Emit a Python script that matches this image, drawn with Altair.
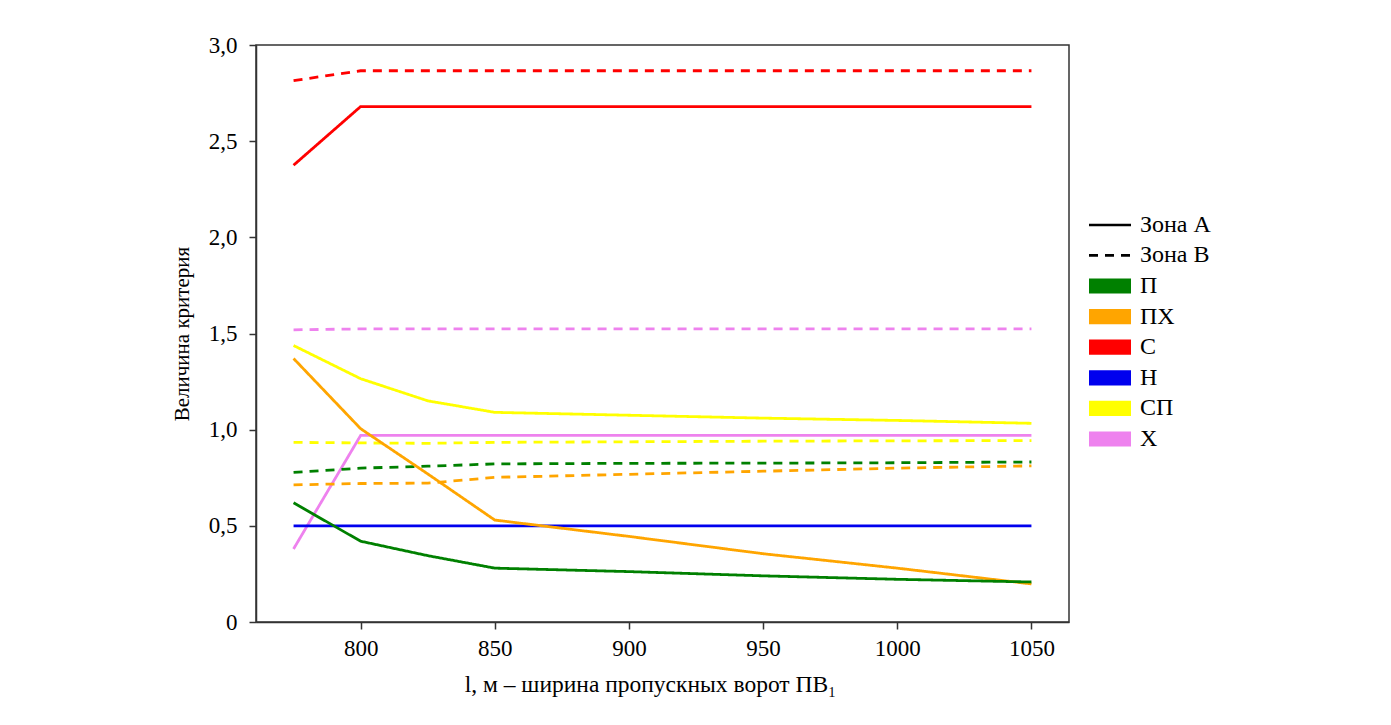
import altair as alt
import pandas as pd

# --- data ---
x_vals = [775, 800, 825, 850, 900, 950, 1000, 1050]
criteria = ["П", "ПХ", "С", "Н", "СП", "Х"]
colors = ["#008000", "#FFA500", "#FF0000", "#0000EE", "#FFFF00", "#EE82EE"]
zones = ["Зона А", "Зона В"]

# Zone A (solid)
a_P = [0.62, 0.42, 0.345, 0.28, 0.262, 0.24, 0.222, 0.208]
a_PX = [1.37, 1.005, 0.77, 0.53, 0.445, 0.355, 0.28, 0.198]
a_S = [2.375, 2.68, 2.68, 2.68, 2.68, 2.68, 2.68, 2.68]
a_N = [0.5, 0.5, 0.5, 0.5, 0.5, 0.5, 0.5, 0.5]
a_SP = [1.4375, 1.265, 1.15, 1.09, 1.075, 1.06, 1.048, 1.033]
a_X = [0.38, 0.97, 0.97, 0.97, 0.97, 0.97, 0.97, 0.97]

# Zone B (dashed)
b_P = [0.778, 0.80, 0.81, 0.822, 0.825, 0.826, 0.828, 0.832]
b_PX = [0.713, 0.72, 0.722, 0.752, 0.768, 0.784, 0.80, 0.812]
b_S = [2.815, 2.866, 2.866, 2.866, 2.866, 2.866, 2.866, 2.866]
b_SP = [0.934, 0.931, 0.929, 0.934, 0.937, 0.94, 0.942, 0.943]
b_X = [1.519, 1.524, 1.524, 1.524, 1.524, 1.524, 1.524, 1.524]

y_ticks = [0, 0.5, 1.0, 1.5, 2.0, 2.5, 3.0]
x_ticks = [800, 850, 900, 950, 1000, 1050]

series = [
    ("Зона А", "С", a_S), ("Зона В", "С", b_S),
    ("Зона В", "Х", b_X),
    ("Зона А", "СП", a_SP), ("Зона В", "СП", b_SP),
    ("Зона А", "Х", a_X),
    ("Зона В", "П", b_P), ("Зона В", "ПХ", b_PX),
    ("Зона А", "Н", a_N),
    ("Зона А", "ПХ", a_PX),
    ("Зона А", "П", a_P),
]

rows = []
for order, (zone, crit, vals) in enumerate(series):
    for x, v in zip(x_vals, vals):
        rows.append({"l": x, "value": v, "criterion": crit, "zone": zone, "order": order})
df = pd.DataFrame(rows)

FONT = "Times New Roman"

axis_style = dict(
    labelFont=FONT,
    titleFont=FONT,
    labelFontSize=23,
    titleFontWeight="normal",
    labelColor="black",
    titleColor="black",
    domainColor="#333333",
    domainWidth=1.5,
    tickColor="#333333",
    tickWidth=1.5,
    grid=False,
    tickSize=7,
)

# a block of stacked strokes that reads as a filled swatch
swatch = "M-7,-2H7M-7,-1H7M-7,0H7M-7,1H7M-7,2H7"

chart = (
    alt.Chart(df)
    .mark_line(strokeWidth=2.8, clip=True)
    .encode(
        x=alt.X(
            "l:Q",
            scale=alt.Scale(domain=[761, 1064], nice=False, zero=False),
            axis=alt.Axis(
                values=x_ticks,
                format="d",
                title="l, м – ширина пропускных ворот ПВ₁",
                titleFontSize=23.5,
                titleX=394,
                labelPadding=8,
                titlePadding=12,
                **axis_style,
            ),
        ),
        y=alt.Y(
            "value:Q",
            scale=alt.Scale(domain=[0, 3], nice=False),
            axis=alt.Axis(
                values=y_ticks,
                title="Величина критерия",
                titleFontSize=21,
                labelPadding=12,
                titlePadding=16,
                labelExpr="datum.value == 0 ? '0' : replace(format(datum.value, '.1f'), '.', ',')",
                **axis_style,
            ),
        ),
        color=alt.Color(
            "criterion:N",
            scale=alt.Scale(domain=criteria, range=colors),
            legend=alt.Legend(
                title=None,
                orient="none",
                legendX=842,
                legendY=229,
                symbolType=swatch,
                symbolSize=36,
                symbolStrokeWidth=3.2,
                symbolDash=[1, 0],
                labelOffset=18,
                rowPadding=4.6,
                padding=0,
                labelFont=FONT,
                labelFontSize=24,
                labelColor="black",
            ),
        ),
        strokeDash=alt.StrokeDash(
            "zone:N",
            scale=alt.Scale(domain=zones, range=[[1, 0], [9, 7]]),
            legend=alt.Legend(
                title=None,
                orient="none",
                legendX=842,
                legendY=168,
                symbolType="M-7,0H7",
                symbolSize=36,
                symbolStrokeWidth=2.6,
                symbolStrokeColor="black",
                labelOffset=18,
                rowPadding=6.4,
                padding=0,
                labelFont=FONT,
                labelFontSize=24,
                labelColor="black",
            ),
        ),
        order=alt.Order("order:Q"),
    )
    .properties(
        width=813,
        height=577,
        autosize=alt.AutoSizeParams(type="none"),
        padding={"left": 248, "top": 37, "right": 314, "bottom": 95},
    )
    .configure(font=FONT)
    .configure_view(stroke="#333333", strokeWidth=1.5)
)

chart.save("out.html", embed_options={"renderer": "svg", "actions": False})
